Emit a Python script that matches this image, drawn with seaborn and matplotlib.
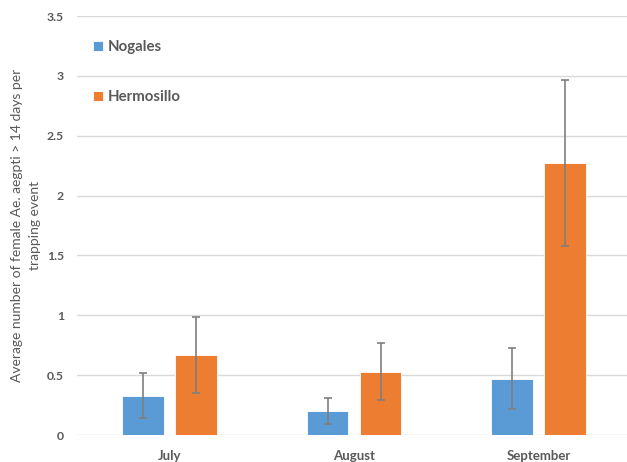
import numpy as np
import pandas as pd
import seaborn as sns
import matplotlib.pyplot as plt

# Dati
months = ['July', 'August', 'September']
sites = ['Nogales', 'Hermosillo']
nogales = [0.33, 0.20, 0.47]
hermosillo = [0.67, 0.53, 2.27]
nogales_err = [0.19, 0.11, 0.255]
hermosillo_err = [0.32, 0.24, 0.695]

colors = ['#5B9BD5', '#ED7D31']
grey = '#595959'

df = pd.DataFrame({
    'month': months * 2,
    'site': [sites[0]] * 3 + [sites[1]] * 3,
    'value': nogales + hermosillo,
    'err': nogales_err + hermosillo_err,
})

sns.set_style('white')
plt.rcParams['font.family'] = ['Lato', 'DejaVu Sans']

fig = plt.figure(figsize=(6.27, 4.62), dpi=100)
# l'area del grafico esce un po' a destra (immagine ritagliata)
ax = fig.add_axes([0.1228, 0.0584, 0.8836, 0.9069])

sns.barplot(data=df, x='month', y='value', hue='site', order=months,
            hue_order=sites, palette=colors, width=0.574, gap=0.208,
            errorbar=None, saturation=1, edgecolor='white', linewidth=0.6,
            ax=ax, zorder=2)

# barre d'errore sui rettangoli disegnati da seaborn
for container, site in zip(ax.containers, sites):
    sub = df[df['site'] == site].set_index('month').loc[months]
    xs = [p.get_x() + p.get_width() / 2 for p in container.patches]
    ax.errorbar(xs, sub['value'], yerr=sub['err'], fmt='none',
                ecolor='#7f7f7f', elinewidth=1.2, capsize=3,
                capthick=1.2, zorder=3)

ax.set_ylim(0, 3.5)
ax.set_xlim(-0.5, 2.5)
ax.set_yticks(np.arange(0, 3.51, 0.5))
ax.set_yticklabels(['0', '0.5', '1', '1.5', '2', '2.5', '3', '3.5'])
ax.yaxis.grid(True, color='#d9d9d9', linewidth=1)
ax.set_axisbelow(True)
for s in ax.spines.values():
    s.set_visible(False)

ax.tick_params(axis='both', length=0, colors=grey)
ax.tick_params(axis='y', pad=9.5, labelsize=8.8)
ax.tick_params(axis='x', pad=11, labelsize=9.5)
for lbl in ax.get_xticklabels() + ax.get_yticklabels():
    lbl.set_fontweight('bold')

ax.set_xlabel('')
ax.set_ylabel('Average number of female Ae. aegpti > 14 days per\ntrapping event',
              color=grey, fontsize=10, labelpad=4, linespacing=1.65)

handles, labels = ax.get_legend_handles_labels()
leg = ax.legend(handles, labels, loc='upper left', bbox_to_anchor=(0.004, 0.975),
                frameon=False, handlelength=0.7, handleheight=0.7,
                handletextpad=0.3, labelspacing=2.4,
                prop={'size': 10.8, 'weight': 'bold'})
for t in leg.get_texts():
    t.set_color(grey)

fig.savefig('out.png', dpi=100)
